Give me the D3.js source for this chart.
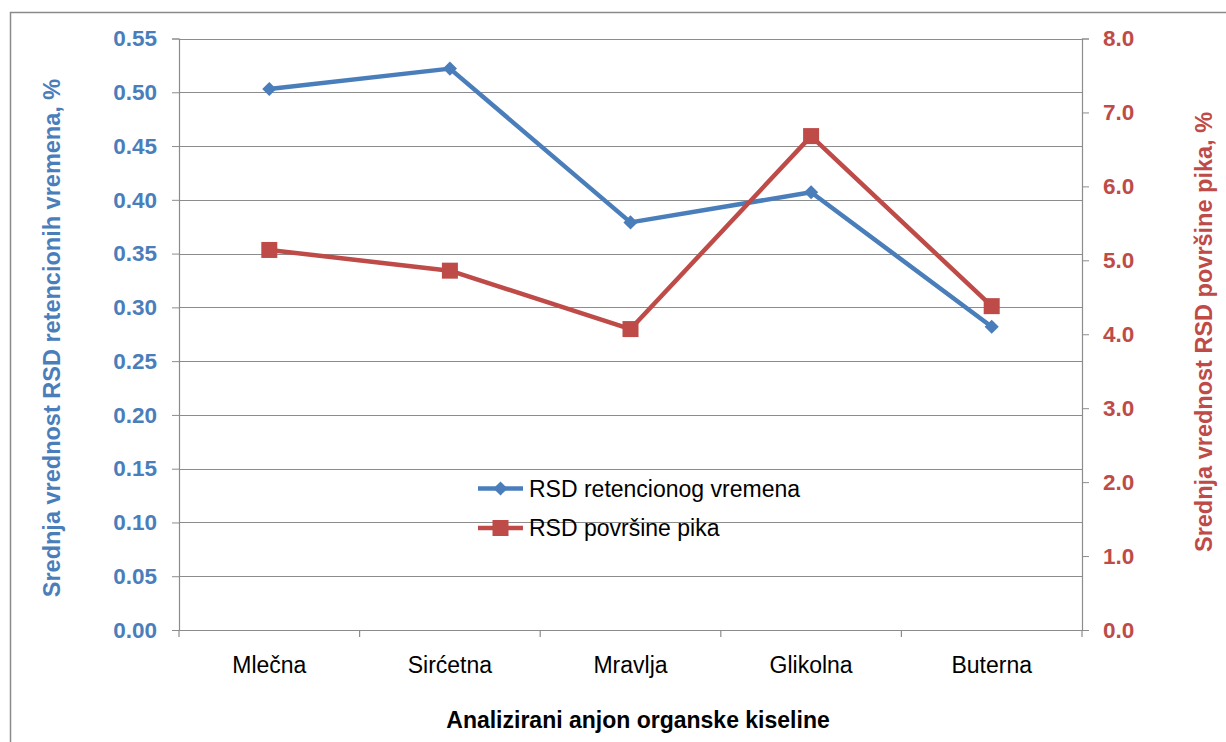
<!DOCTYPE html>
<html>
<head>
<meta charset="utf-8">
<script src="https://cdn.jsdelivr.net/npm/d3@7"></script>
<style>
  html, body { margin: 0; padding: 0; background: #fff; }
  svg { display: block; font-family: "Liberation Sans", Arial, sans-serif; }
</style>
</head>
<body>
<svg id="chart" width="1226" height="742"></svg>
<script>
// Organic acid anions analysed
const categories = ["Mlečna", "Sirćetna", "Mravlja", "Glikolna", "Buterna"];
// Mean RSD of retention times, % (left axis)
const rsdRetention = [0.503, 0.522, 0.379, 0.407, 0.282];
// Mean RSD of peak areas, % (right axis)
const rsdArea = [5.14, 4.86, 4.07, 6.68, 4.38];
const leftTicks = [0, 0.05, 0.10, 0.15, 0.20, 0.25, 0.30, 0.35, 0.40, 0.45, 0.50, 0.55];
const rightTicks = [0, 1, 2, 3, 4, 5, 6, 7, 8];

const blue = "#4A7EBB";
const red = "#BE4B48";
const grid = "#8C8C8C";

const svg = d3.select("#chart");
const m = { left: 179, right: 1082, top: 38.5, bottom: 630 };

// outer chart frame
svg.append("rect")
  .attr("x", 10.5).attr("y", 12.5)
  .attr("width", 1240).attr("height", 760)
  .attr("fill", "none").attr("stroke", "#8A8A8A").attr("stroke-width", 1.5);

const x = d3.scaleBand().domain(categories).range([m.left, m.right]);
const yL = d3.scaleLinear().domain([0, 0.55]).range([m.bottom, m.top]);
const yR = d3.scaleLinear().domain([0, 8]).range([m.bottom, m.top]);

// horizontal gridlines
svg.append("g").selectAll("line").data(leftTicks.slice(1)).join("line")
  .attr("x1", m.left).attr("x2", m.right)
  .attr("y1", d => Math.round(yL(d)) + 0.5).attr("y2", d => Math.round(yL(d)) + 0.5)
  .attr("stroke", grid).attr("stroke-width", 1);

// left axis
const gL = svg.append("g").attr("transform", `translate(${m.left},0)`)
  .call(d3.axisLeft(yL).tickValues(leftTicks).tickFormat(d3.format(".2f")).tickSize(7).tickPadding(15));
gL.select(".domain").attr("stroke", grid).attr("stroke-width", 1.2);
gL.selectAll(".tick line").attr("stroke", grid);
gL.selectAll(".tick text").attr("fill", blue).attr("font-size", 22.5).attr("font-weight", "bold")
  .attr("font-family", "Liberation Sans, Arial, sans-serif");

// right axis
const gR = svg.append("g").attr("transform", `translate(${m.right},0)`)
  .call(d3.axisRight(yR).tickValues(rightTicks).tickFormat(d3.format(".1f")).tickSize(7).tickPadding(14));
gR.select(".domain").attr("stroke", grid).attr("stroke-width", 1.2);
gR.selectAll(".tick line").attr("stroke", grid);
gR.selectAll(".tick text").attr("fill", red).attr("font-size", 22.5).attr("font-weight", "bold")
  .attr("font-family", "Liberation Sans, Arial, sans-serif");

// bottom axis with ticks at category boundaries
const gB = svg.append("g").attr("transform", `translate(0,${m.bottom})`);
gB.append("line").attr("x1", m.left - 7).attr("x2", m.right + 7)
  .attr("y1", 0.5).attr("y2", 0.5).attr("stroke", grid).attr("stroke-width", 1.2);
const bounds = categories.map(c => x(c)).concat([m.right]);
gB.selectAll("line.tk").data(bounds).join("line").attr("class", "tk")
  .attr("x1", d => d).attr("x2", d => d).attr("y1", 0).attr("y2", 7)
  .attr("stroke", grid).attr("stroke-width", 1.2);
gB.selectAll("text").data(categories).join("text")
  .attr("x", d => x(d) + x.bandwidth() / 2).attr("y", 43)
  .attr("text-anchor", "middle").attr("font-size", 23).attr("fill", "#000")
  .text(d => d);

// axis titles
svg.append("text").attr("x", 638).attr("y", 728).attr("text-anchor", "middle")
  .attr("font-size", 23).attr("font-weight", "bold").attr("fill", "#000")
  .text("Analizirani anjon organske kiseline");
svg.append("text").attr("transform", "translate(60,338) rotate(-90)").attr("text-anchor", "middle")
  .attr("font-size", 23.5).attr("font-weight", "bold").attr("fill", blue)
  .text("Srednja vrednost RSD retencionih vremena, %");
svg.append("text").attr("transform", "translate(1212,332) rotate(-90)").attr("text-anchor", "middle")
  .attr("font-size", 23.5).attr("font-weight", "bold").attr("fill", red)
  .text("Srednja vrednost RSD površine pika, %");

const cx = d => x(d) + x.bandwidth() / 2;

// retention-time series with diamond markers
svg.append("path").datum(rsdRetention)
  .attr("d", d3.line().x((d, i) => cx(categories[i])).y(d => yL(d)))
  .attr("fill", "none").attr("stroke", blue).attr("stroke-width", 4.5).attr("stroke-linejoin", "round");
const diamond = d3.symbol().type(d3.symbolSquare).size(100);
svg.append("g").selectAll("path").data(rsdRetention).join("path")
  .attr("d", diamond)
  .attr("transform", (d, i) => `translate(${cx(categories[i])},${yL(d)}) rotate(45)`)
  .attr("fill", blue);

// peak-area series with square markers
svg.append("path").datum(rsdArea)
  .attr("d", d3.line().x((d, i) => cx(categories[i])).y(d => yR(d)))
  .attr("fill", "none").attr("stroke", red).attr("stroke-width", 4.5).attr("stroke-linejoin", "round");
svg.append("g").selectAll("rect").data(rsdArea).join("rect")
  .attr("x", (d, i) => cx(categories[i]) - 8).attr("y", d => yR(d) - 8)
  .attr("width", 16).attr("height", 16)
  .attr("fill", red);

// legend
const legend = [
  { name: "RSD retencionog vremena", color: blue, type: "diamond", y: 488.5 },
  { name: "RSD površine pika", color: red, type: "square", y: 528 }
];
const lg = svg.append("g");
legend.forEach(l => {
  lg.append("line").attr("x1", 478).attr("x2", 523).attr("y1", l.y).attr("y2", l.y)
    .attr("stroke", l.color).attr("stroke-width", 4.5);
  if (l.type === "diamond") {
    lg.append("path").attr("d", diamond).attr("transform", `translate(500.5,${l.y}) rotate(45)`).attr("fill", l.color);
  } else {
    lg.append("rect").attr("x", 492.5).attr("y", l.y - 8).attr("width", 16).attr("height", 16).attr("fill", l.color);
  }
  lg.append("text").attr("x", 529).attr("y", l.y + 8).attr("font-size", 23).attr("fill", "#000").text(l.name);
});
</script>
</body>
</html>
